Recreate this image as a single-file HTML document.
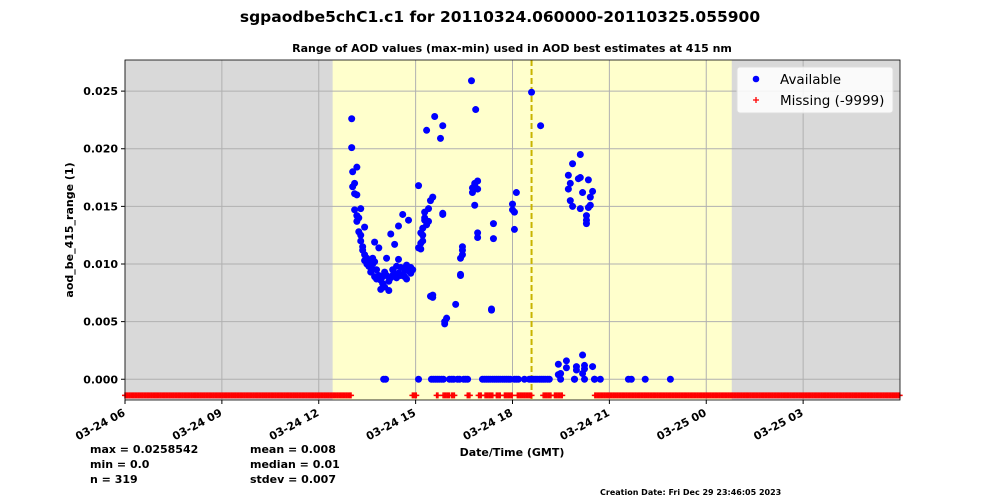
<!DOCTYPE html>
<html><head><meta charset="utf-8"><style>
body{margin:0;background:#fff;width:1000px;height:500px;overflow:hidden;font-family:"DejaVu Sans","Liberation Sans",sans-serif}
svg text{font-family:"DejaVu Sans","Liberation Sans",sans-serif}
</style></head><body>
<svg id="chart" width="1000" height="500">
<text x="500" y="22" text-anchor="middle" font-size="15.5" font-weight="bold">sgpaodbe5chC1.c1 for 20110324.060000-20110325.055900</text>
<text x="512" y="52" text-anchor="middle" font-size="11" font-weight="bold">Range of AOD values (max-min) used in AOD best estimates at 415 nm</text>
<g id="plot"></g>
<text transform="translate(73,230) rotate(-90)" text-anchor="middle" font-size="11" font-weight="bold">aod_be_415_range (1)</text>
<text x="512" y="456" text-anchor="middle" font-size="11" font-weight="bold">Date/Time (GMT)</text>
<g font-size="11" font-weight="bold">
<text x="90" y="453">max = 0.0258542</text>
<text x="90" y="468">min = 0.0</text>
<text x="90" y="483">n = 319</text>
<text x="250" y="453">mean = 0.008</text>
<text x="250" y="468">median = 0.01</text>
<text x="250" y="483">stdev = 0.007</text>
</g>
<text x="600" y="495" font-size="8" font-weight="bold">Creation Date: Fri Dec 29 23:46:05 2023</text>
</svg>
<script>
// hours since 03-24 06:00
const availTimes=[7.02,7.02,7.05,7.05,7.11,7.11,7.11,7.18,7.18,7.18,7.18,7.24,7.24,7.30,7.30,7.30,7.36,7.36,7.42,7.42,7.42,7.49,7.49,7.55,7.55,7.61,7.61,7.67,7.67,7.67,7.73,7.73,7.73,7.79,7.79,7.86,7.86,7.92,7.92,7.98,7.98,8.04,8.04,8.10,8.10,8.17,8.17,8.23,8.23,8.29,8.29,8.35,8.35,8.41,8.41,8.47,8.47,8.47,8.54,8.54,8.60,8.60,8.66,8.66,8.72,8.72,8.78,8.78,8.85,8.85,8.91,
8.01,8.07,
9.09,9.09,9.09,9.16,9.16,9.16,9.22,9.22,9.22,9.28,9.28,9.28,9.34,9.34,9.40,9.40,9.46,9.46,9.53,9.53,9.53,9.59,9.77,9.84,9.84,9.84,9.90,9.90,9.96,10.24,10.39,10.39,10.39,10.45,10.45,10.45,10.73,10.76,10.76,10.83,10.83,10.83,10.86,10.92,10.92,10.92,10.92,11.35,11.35,11.41,11.41,12.00,12.00,12.06,12.06,12.12,12.59,12.87,
9.49,9.55,9.61,9.67,9.73,9.80,9.86,10.05,10.12,10.18,10.30,10.36,10.49,10.55,10.61,11.07,11.13,11.19,11.25,11.31,11.38,11.44,11.50,11.56,11.62,11.69,11.75,11.81,11.87,11.93,12.06,12.12,12.18,12.37,12.52,12.58,12.64,12.70,12.76,12.83,12.89,12.95,13.01,13.08,13.14,
13.42,13.42,13.49,13.49,13.67,13.67,13.73,13.73,13.79,13.79,13.86,13.86,13.92,13.92,13.98,13.98,14.04,14.10,14.10,14.10,14.17,14.17,14.17,14.23,14.23,14.23,14.29,14.29,14.29,14.35,14.35,14.41,14.41,14.48,14.48,14.54,14.54,14.72,15.59,15.68,16.11,16.89];
const availValues=[0.0226,0.0201,0.0180,0.0167,0.0161,0.0170,0.0147,0.0184,0.0160,0.0142,0.0137,0.0140,0.0128,0.0148,0.0125,0.0120,0.0115,0.0112,0.0132,0.0108,0.0103,0.0105,0.0100,0.0098,0.0103,0.0093,0.0097,0.0095,0.0100,0.0105,0.0119,0.0089,0.0102,0.0087,0.0095,0.0114,0.0090,0.0086,0.0078,0.0089,0.0083,0.0080,0.0093,0.0090,0.0105,0.0085,0.0077,0.0088,0.0126,0.0095,0.0090,0.0092,0.0117,0.0098,0.0088,0.0104,0.0092,0.0133,0.0090,0.0097,0.0143,0.0091,0.0095,0.0089,0.0099,0.0087,0.0094,0.0138,0.0092,0.0097,0.0095,
0,0,
0,0.0168,0.0114,0.0113,0.0127,0.0118,0.0125,0.0120,0.0131,0.0138,0.0140,0.0145,0.0134,0.0216,0.0137,0.0148,0.0072,0.0155,0.0158,0.0073,0.0071,0.0228,0.0209,0.0143,0.0220,0.0144,0.0048,0.0050,0.0053,0.0065,0.0090,0.0091,0.0105,0.0108,0.0112,0.0115,0.0259,0.0166,0.0162,0.0151,0.0170,0.0168,0.0234,0.0172,0.0165,0.0123,0.0127,0.0060,0.0061,0.0135,0.0122,0.0152,0.0147,0.0130,0.0145,0.0162,0.0249,0.0220,
0,0,0,0,0,0,0,0,0,0,0,0,0,0,0,0,0,0,0,0,0,0,0,0,0,0,0,0,0,0,0,0,0,0,0,0,0,0,0,0,0,0,0,0,0,
0.0013,0.0004,0.0005,0,0.0016,0.0010,0.0177,0.0165,0.0170,0.0155,0.0187,0.0150,0,0,0.0011,0.0008,0.0174,0.0195,0.0175,0.0148,0.0162,0.0021,0.0005,0.0012,0,0.0009,0.0138,0.0142,0.0135,0.0173,0.0149,0.0151,0.0158,0.0163,0.0011,0,0,0,0,0,0,0];
const missingSegments=[[0,7.0],[8.9,9.05],[9.65,9.7],[9.85,10.05],[10.12,10.2],[10.6,10.7],[10.95,11.05],[11.15,11.4],[11.5,11.65],[11.75,12.0],[12.15,12.6],[12.95,13.2],[13.3,13.55],[14.55,24]];
const yTicks=[0,0.005,0.010,0.015,0.020,0.025];
const yTickLabels=["0.000","0.005","0.010","0.015","0.020","0.025"];
const xTicks=[0,3,6,9,12,15,18,21];
const xTickLabels=["03-24 06","03-24 09","03-24 12","03-24 15","03-24 18","03-24 21","03-25 00","03-25 03"];
const validStart=6.43, validEnd=18.79, markerTime=12.59, missingValue=-0.0014;

const L=125,R=900,T=60,B=400,tMax=24,yMin=-0.0018,yMax=0.0277;
const xs=h=>L+h/tMax*(R-L);
const ys=v=>B-(v-yMin)/(yMax-yMin)*(B-T);
const NS="http://www.w3.org/2000/svg";
const g=document.getElementById('plot');
function mk(tag,attrs,parent){const e=document.createElementNS(NS,tag);for(const k in attrs)e.setAttribute(k,attrs[k]);(parent||g).appendChild(e);return e;}

let e=mk('rect',{x:L,y:T,width:R-L,height:B-T,fill:'#d9d9d9'});


e=mk('rect',{x:xs(validStart),y:T,width:xs(validEnd)-xs(validStart),height:B-T,fill:'#ffffcc'});


yTicks.forEach((v,i)=>{
  e=mk('line',{x1:L,x2:R,y1:ys(v),y2:ys(v),stroke:'#b0b0b0','stroke-width':1});
  
  
  mk('line',{x1:L-4,x2:L,y1:ys(v),y2:ys(v),stroke:'#000'});
  e=mk('text',{x:L-7,y:ys(v)+4,'text-anchor':'end','font-size':11,'font-weight':'bold'});
  e.textContent=yTickLabels[i];
  
  
});
xTicks.forEach((h,i)=>{
  e=mk('line',{x1:xs(h),x2:xs(h),y1:T,y2:B,stroke:'#b0b0b0','stroke-width':1});
  
  
  mk('line',{x1:xs(h),x2:xs(h),y1:B,y2:B+4,stroke:'#000'});
  e=mk('text',{transform:`translate(${xs(h)+1},${B+15}) rotate(-28)`,'text-anchor':'end','font-size':11,'font-weight':'bold'});
  e.textContent=xTickLabels[i];
  
  
});
e=mk('line',{x1:xs(markerTime),x2:xs(markerTime),y1:T,y2:B,stroke:'#c8b400','stroke-width':2,'stroke-dasharray':'6,3'});


missingSegments.forEach(s=>{
  for(let h=s[0];h<=s[1]+1e-9;h+=0.04){
    const x=xs(h),y=ys(missingValue);
    e=mk('path',{d:`M${x-3},${y}H${x+3}M${x},${y-3}V${y+3}`,stroke:'#ff0000','stroke-width':1.5});
    
    
  }
});
availTimes.forEach((h,i)=>{
  e=mk('circle',{cx:xs(h),cy:ys(availValues[i]),r:3.5,fill:'#0000ff'});
  
  
});
e=mk('rect',{x:L,y:T,width:R-L,height:B-T,fill:'none',stroke:'#000','stroke-width':0.8});


const lg=mk('g',{});


mk('rect',{x:737,y:67,width:156,height:46,rx:3,fill:'#fff','fill-opacity':0.85,stroke:'#ddd'},lg);
mk('circle',{cx:756,cy:79,r:3.3,fill:'#0000ff'},lg);
e=mk('text',{x:780,y:84,'font-size':13.5},lg);e.textContent='Available';


mk('path',{d:'M753,100H759M756,97V103',stroke:'#ff0000','stroke-width':1.3},lg);
e=mk('text',{x:780,y:105,'font-size':13.5},lg);e.textContent='Missing (-9999)';


</script>
</body></html>
